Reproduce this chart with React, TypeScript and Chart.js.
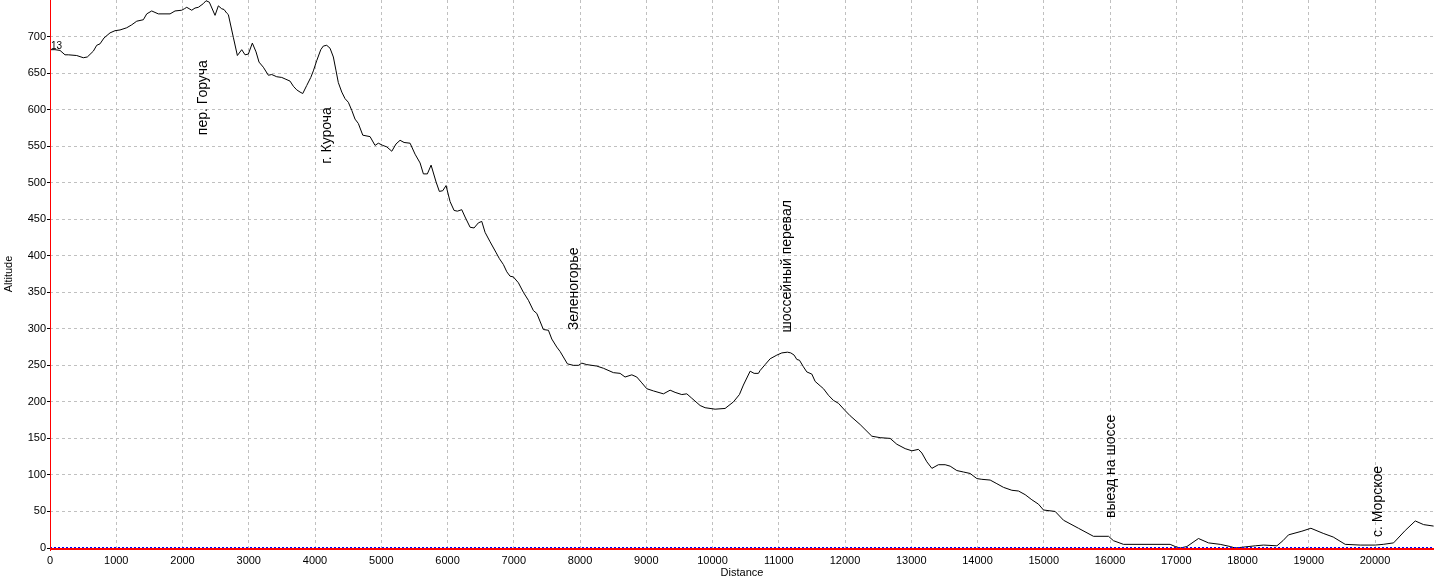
import React, { useEffect, useRef } from "react";
import { Chart, registerables } from "chart.js";

Chart.register(...registerables);

// Distance along the route (m)
const distance: number[] = [
  10, 75, 151, 226, 276, 403, 503, 563, 654, 705, 755, 815, 906, 981, 1057, 1158, 1233, 1309, 1409, 1460,
  1535, 1635, 1812, 1887, 1988, 2028, 2064, 2139, 2189, 2239, 2314, 2355, 2405, 2491, 2541, 2592, 2627, 2668, 2692, 2767,
  2828, 2894, 2944, 2994, 3054, 3110, 3155, 3220, 3296, 3347, 3422, 3498, 3548, 3623, 3673, 3724, 3774, 3815, 3875, 3936,
  3975, 4026, 4087, 4126, 4177, 4227, 4277, 4318, 4352, 4404, 4453, 4503, 4555, 4604, 4654, 4721, 4831, 4906, 4956, 5023,
  5083, 5159, 5223, 5284, 5344, 5435, 5510, 5586, 5636, 5696, 5752, 5827, 5877, 5928, 5978, 6039, 6099, 6149, 6215, 6265,
  6341, 6401, 6466, 6517, 6567, 6643, 6729, 6783, 6843, 6895, 6944, 6994, 7070, 7145, 7221, 7296, 7348, 7447, 7523, 7574,
  7649, 7699, 7810, 7900, 7976, 8027, 8102, 8253, 8353, 8504, 8605, 8680, 8782, 8857, 8933, 9008, 9108, 9259, 9360, 9435,
  9536, 9612, 9687, 9813, 9888, 10039, 10190, 10316, 10406, 10466, 10568, 10628, 10693, 10719, 10794, 10870, 10971, 11046, 11131, 11182,
  11232, 11273, 11312, 11372, 11423, 11499, 11549, 11624, 11675, 11750, 11825, 11901, 12002, 12077, 12228, 12405, 12530, 12681, 12782, 12908,
  13009, 13108, 13160, 13235, 13311, 13410, 13511, 13587, 13688, 13788, 13889, 13990, 14065, 14191, 14292, 14392, 14518, 14618, 14719, 14820,
  14920, 14996, 15172, 15298, 15524, 15750, 15977, 16052, 16203, 16908, 16984, 17059, 17160, 17335, 17486, 17663, 17814, 17890, 18192, 18317,
  18519, 18610, 18694, 18896, 19032, 19218, 19369, 19550, 19777, 20003, 20124, 20280, 20456, 20607, 20733, 20884,
];

// Altitude (m)
const altitude: number[] = [
  682, 682, 681, 675, 675, 674, 671, 672, 680, 688, 690, 698, 705, 708, 709, 712, 716, 721, 723, 731,
  735, 731, 731, 735, 736, 738, 740, 736, 739, 740, 745, 749, 747, 729, 742, 738, 737, 732, 730, 699,
  674, 682, 675, 676, 691, 679, 665, 658, 647, 648, 645, 644, 642, 639, 632, 627, 624, 622, 633, 644,
  653, 667, 682, 687, 688, 684, 672, 653, 637, 624, 615, 610, 599, 587, 581, 565, 563, 551, 554, 551,
  549, 543, 553, 558, 555, 554, 539, 527, 512, 512, 524, 501, 488, 489, 496, 474, 462, 461, 463, 453,
  439, 438, 445, 447, 432, 419, 405, 396, 388, 378, 372, 371, 363, 350, 339, 325, 321, 299, 298, 286,
  275, 269, 252, 250, 250, 253, 251, 249, 246, 240, 239, 234, 237, 234, 226, 218, 215, 211, 216, 213,
  210, 211, 205, 195, 192, 190, 191, 200, 210, 223, 242, 239, 239, 243, 251, 259, 264, 267, 268, 267,
  264, 258, 257, 248, 241, 238, 228, 222, 218, 209, 202, 198, 188, 181, 169, 153, 151, 150, 142, 136,
  133, 135, 130, 118, 109, 114, 114, 112, 106, 104, 102, 95, 94, 93, 88, 83, 79, 78, 73, 66,
  60, 52, 50, 38, 27, 16, 16, 10, 5, 5, 2, 0, 2, 13, 7, 5, 2, 0, 3, 4,
  3, 10, 18, 23, 27, 20, 15, 5, 4, 4, 5, 7, 24, 37, 32, 30,
];

// Waypoint labels (vertical text)
const waypointNames: string[] = [
  "пер. Горуча",
  "г. Куроча",
  "Зеленогорье",
  "шоссейный перевал",
  "выезд на шоссе",
  "с. Морское",
];
const waypointDistance: number[] = [2310, 4182, 7911, 11119, 16010, 20048];
const waypointTextStart: number[] = [565, 526, 298, 295, 41, 15];

const startMarkLabel = "13";
const startMarkAltitude = 694;

// Axis ticks
const xTicks: number[] = [
  0, 1000, 2000, 3000, 4000, 5000, 6000, 7000, 8000, 9000, 10000,
  11000, 12000, 13000, 14000, 15000, 16000, 17000, 18000, 19000, 20000,
];
const yTicks: number[] = [0, 50, 100, 150, 200, 250, 300, 350, 400, 450, 500, 550, 600, 650, 700];

const xMin = 0;
const xMax = 20890;
const yMin = 0;
const yMax = 750;

const FONT = '"Liberation Sans", Arial, sans-serif';

const overlayPlugin = {
  id: "overlay",
  afterDraw(chart: any) {
    const { ctx, chartArea, scales } = chart;
    const xs = scales.x;
    const ys = scales.y;
    ctx.save();
    const y0 = Math.round(ys.getPixelForValue(0));
    // blue dashed zero line
    ctx.strokeStyle = "#0000ff";
    ctx.lineWidth = 1;
    ctx.setLineDash([2, 2]);
    ctx.beginPath();
    ctx.moveTo(chartArea.left, y0 - 0.5);
    ctx.lineTo(chartArea.right, y0 - 0.5);
    ctx.stroke();
    ctx.setLineDash([]);
    // red axes
    ctx.fillStyle = "#ff0000";
    ctx.fillRect(chartArea.left, y0, chartArea.right - chartArea.left, 2);
    ctx.fillRect(chartArea.left, chartArea.top, 1, chartArea.bottom - chartArea.top + 3);
    // waypoint labels
    ctx.fillStyle = "#000";
    ctx.font = "14px " + FONT;
    waypointNames.forEach((name, i) => {
      const px = xs.getPixelForValue(waypointDistance[i]);
      const py = ys.getPixelForValue(waypointTextStart[i]);
      ctx.save();
      ctx.translate(px, py);
      ctx.rotate(-Math.PI / 2);
      ctx.textAlign = "left";
      ctx.textBaseline = "middle";
      ctx.fillText(name, 0, 0);
      ctx.restore();
    });
    // start mark
    ctx.font = "10px " + FONT;
    ctx.textAlign = "left";
    ctx.textBaseline = "top";
    ctx.fillText(startMarkLabel, xs.getPixelForValue(0) + 1, ys.getPixelForValue(startMarkAltitude));
    ctx.restore();
  },
};

export default function App() {
  const canvasRef = useRef<HTMLCanvasElement | null>(null);

  useEffect(() => {
    if (!canvasRef.current) return;
    const points = distance.map((d, i) => ({ x: d, y: altitude[i] }));
    const chart = new Chart(canvasRef.current, {
      type: "line",
      data: {
        datasets: [
          {
            data: points,
            borderColor: "#000000",
            borderWidth: 1,
            pointRadius: 0,
            tension: 0,
            fill: false,
          },
        ],
      },
      options: {
        animation: false,
        responsive: false,
        maintainAspectRatio: false,
        layout: { padding: 0 },
        plugins: {
          legend: { display: false },
          tooltip: { enabled: false },
        },
        scales: {
          x: {
            type: "linear",
            min: xMin,
            max: xMax,
            afterBuildTicks: (scale: any) => {
              scale.ticks = xTicks.map((v) => ({ value: v }));
            },
            ticks: {
              autoSkip: false,
              maxRotation: 0,
              color: "#000",
              padding: 2,
              font: { family: FONT, size: 11 },
              callback: (v: any) => String(v),
            },
            grid: {
              color: "#c0c0c0",
              lineWidth: 1,
              tickLength: 4,
              tickColor: "rgba(0,0,0,0)",
            },
            border: { display: false, dash: [3, 3] },
            title: {
              display: true,
              text: "Distance",
              color: "#000",
              font: { family: FONT, size: 11 },
              padding: { top: 2, bottom: 1 },
            },
            afterFit: (scale: any) => {
              scale.height = 33;
              scale.paddingLeft = 0;
              scale.paddingRight = 0;
            },
          },
          y: {
            type: "linear",
            min: yMin,
            max: yMax,
            afterBuildTicks: (scale: any) => {
              scale.ticks = yTicks.map((v) => ({ value: v }));
            },
            ticks: {
              color: "#000",
              padding: 1,
              font: { family: FONT, size: 11 },
              callback: (v: any) => String(v),
            },
            grid: {
              color: "#c0c0c0",
              lineWidth: 1,
              tickLength: 3,
              tickColor: "#000",
            },
            border: { display: false, dash: [3, 3] },
            title: {
              display: true,
              text: "Altitude",
              color: "#000",
              font: { family: FONT, size: 11 },
              padding: { top: 2, bottom: 2 },
            },
            afterFit: (scale: any) => {
              scale.width = 50;
              scale.paddingTop = 0;
              scale.paddingBottom = 0;
            },
          },
        },
      },
      plugins: [overlayPlugin],
    });
    return () => chart.destroy();
  }, []);

  return (
    <div style={{ position: "absolute", left: 0, top: 0, width: 1434, height: 581, background: "#fff" }}>
      <canvas ref={canvasRef} width={1434} height={581} style={{ display: "block" }} />
    </div>
  );
}
